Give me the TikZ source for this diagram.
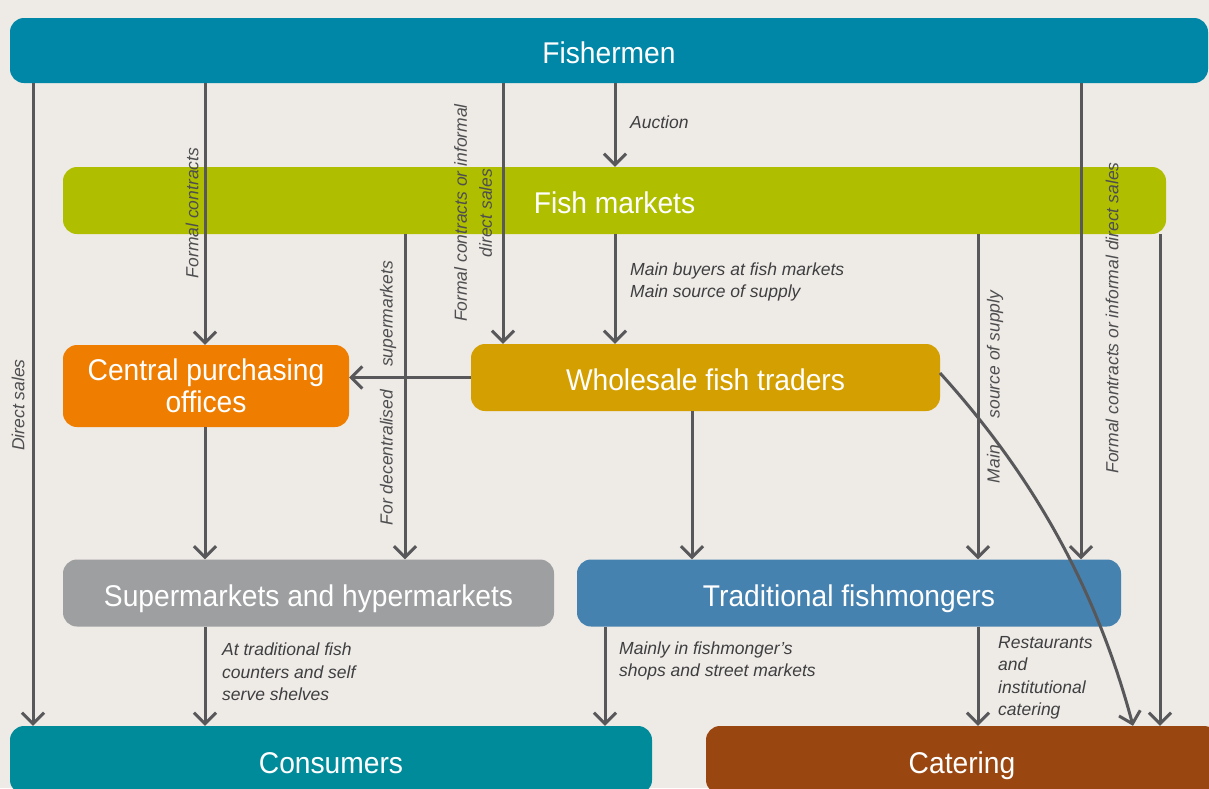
\documentclass[tikz,border=0pt]{standalone}
\usepackage{fontspec}
\setmainfont{Liberation Sans}
\newfontfamily\boxfont{Liberation Sans}[FakeStretch=0.94]
\usetikzlibrary{arrows.meta}

\definecolor{bgcol}{HTML}{EEEAE6}
\definecolor{cFisher}{HTML}{0086A6}
\definecolor{cMarket}{HTML}{AFBF00}
\definecolor{cCentral}{HTML}{EE7D00}
\definecolor{cWholesale}{HTML}{D49F00}
\definecolor{cSuper}{HTML}{9E9FA1}
\definecolor{cTrad}{HTML}{4682AF}
\definecolor{cConsumer}{HTML}{008B9B}
\definecolor{cCatering}{HTML}{9A4611}
\definecolor{flowcol}{HTML}{58585A}
\definecolor{notecol}{HTML}{3F3F41}

\begin{document}
\begin{tikzpicture}[x=1pt,y=-1pt,
  box/.style={rounded corners=14pt, inner sep=0pt, text=white, align=center,
    font=\boxfont\fontsize{30}{32}\selectfont},
  oneline/.style={text height=26pt, text depth=0pt},
  flow/.style={draw=flowcol, line width=3pt,
    -{Straight Barb[length=11pt,width=22pt]}},
  vnote/.style={rotate=90, inner sep=0pt, text=notecol!92!white, align=center,
    font=\itshape\fontsize{17.5}{25}\selectfont},
  hnote/.style={anchor=west, inner sep=0pt, text=notecol, align=left,
    font=\itshape\fontsize{17.5}{22.5}\selectfont}]
\useasboundingbox (0,0) rectangle (1209,788);
\fill[bgcol] (0,0) rectangle (1209,788);
\begin{scope}
\clip (0,0) rectangle (1209,788);

% actors of the supply chain
\node[box, oneline, fill=cFisher, minimum width=1198pt, minimum height=65pt] (fishermen) at (609,50.5) {Fishermen};
\node[box, oneline, fill=cMarket, minimum width=1103pt, minimum height=67pt] (fishmarkets) at (614.5,200.5) {Fish markets};
\node[box, fill=cCentral, minimum width=286pt, minimum height=82pt] (central) at (206,386) {Central purchasing\\offices};
\node[box, oneline, fill=cWholesale, minimum width=469pt, minimum height=67pt] (wholesale) at (705.5,377.5) {Wholesale fish traders};
\node[box, oneline, fill=cSuper, minimum width=491pt, minimum height=67pt] (super) at (308.5,593) {Supermarkets and hypermarkets};
\node[box, oneline, fill=cTrad, minimum width=544pt, minimum height=67pt] (trad) at (849,593) {Traditional fishmongers};
\node[box, oneline, fill=cConsumer, minimum width=642pt, minimum height=68pt] (consumers) at (331,760) {Consumers};
\node[box, oneline, fill=cCatering, minimum width=512pt, minimum height=68pt] (catering) at (962,760) {Catering};

% flows from the fishermen
\draw[flow] (33,0 |- fishermen.south) -- (33,0 |- consumers.north);
\draw[flow] (205,0 |- fishermen.south) -- (205,0 |- central.north);
\draw[flow] (503,0 |- fishermen.south) -- (503,0 |- wholesale.north);
\draw[flow] (615,0 |- fishermen.south) -- (615,0 |- fishmarkets.north);
\draw[flow] (1081,0 |- fishermen.south) -- (1081,0 |- trad.north);

% flows from the fish markets
\draw[flow] (615,0 |- fishmarkets.south) -- (615,0 |- wholesale.north);
\draw[flow] (405,0 |- fishmarkets.south) -- (405,0 |- super.north);
\draw[flow] (978,0 |- fishmarkets.south) -- (978,0 |- trad.north);
\draw[flow] (1160,0 |- fishmarkets.south) -- (1160,0 |- catering.north);

% flows from the wholesalers
\draw[flow] (wholesale.west) -- (wholesale.west -| central.east);
\draw[flow] (692,0 |- wholesale.south) -- (692,0 |- trad.north);
\draw[flow] (940,373) .. controls (1027,469) and (1094,580) .. (1133,0 |- catering.north);

% flows towards the final buyers
\draw[flow] (205,0 |- central.south) -- (205,0 |- super.north);
\draw[flow] (205,0 |- super.south) -- (205,0 |- consumers.north);
\draw[flow] (605,0 |- trad.south) -- (605,0 |- consumers.north);
\draw[flow] (978,0 |- trad.south) -- (978,0 |- catering.north);

% vertical notes
\node[vnote] (nDirect) at (18,405) {Direct sales};
\node[vnote] (nFormal) at (192,213) {Formal contracts};
\node[vnote] (nFormalInf) at (473,213) {Formal contracts or informal\\direct sales};
\node[vnote] (nDecentral) at (388,393) {For decentralised\hspace{23pt}supermarkets};
\node[vnote] (nMainSrc) at (995,387) {Main\hspace{27pt}source of supply};
\node[vnote] (nFormalInf2) at (1112,318) {Formal contracts or informal direct sales};

% horizontal notes
\node[hnote] (nAuction) at (630,122) {Auction};
\node[hnote] (nBuyers) at (630,282) {Main buyers at fish markets\\Main source of supply};
\node[hnote] (nCounters) at (222,672) {At traditional fish\\counters and self\\serve shelves};
\node[hnote] (nShops) at (619,661) {Mainly in fishmonger’s\\shops and street markets};
\node[hnote] (nRestaurants) at (998,678) {Restaurants\\and\\institutional\\catering};
\end{scope}
\end{tikzpicture}
\end{document}
